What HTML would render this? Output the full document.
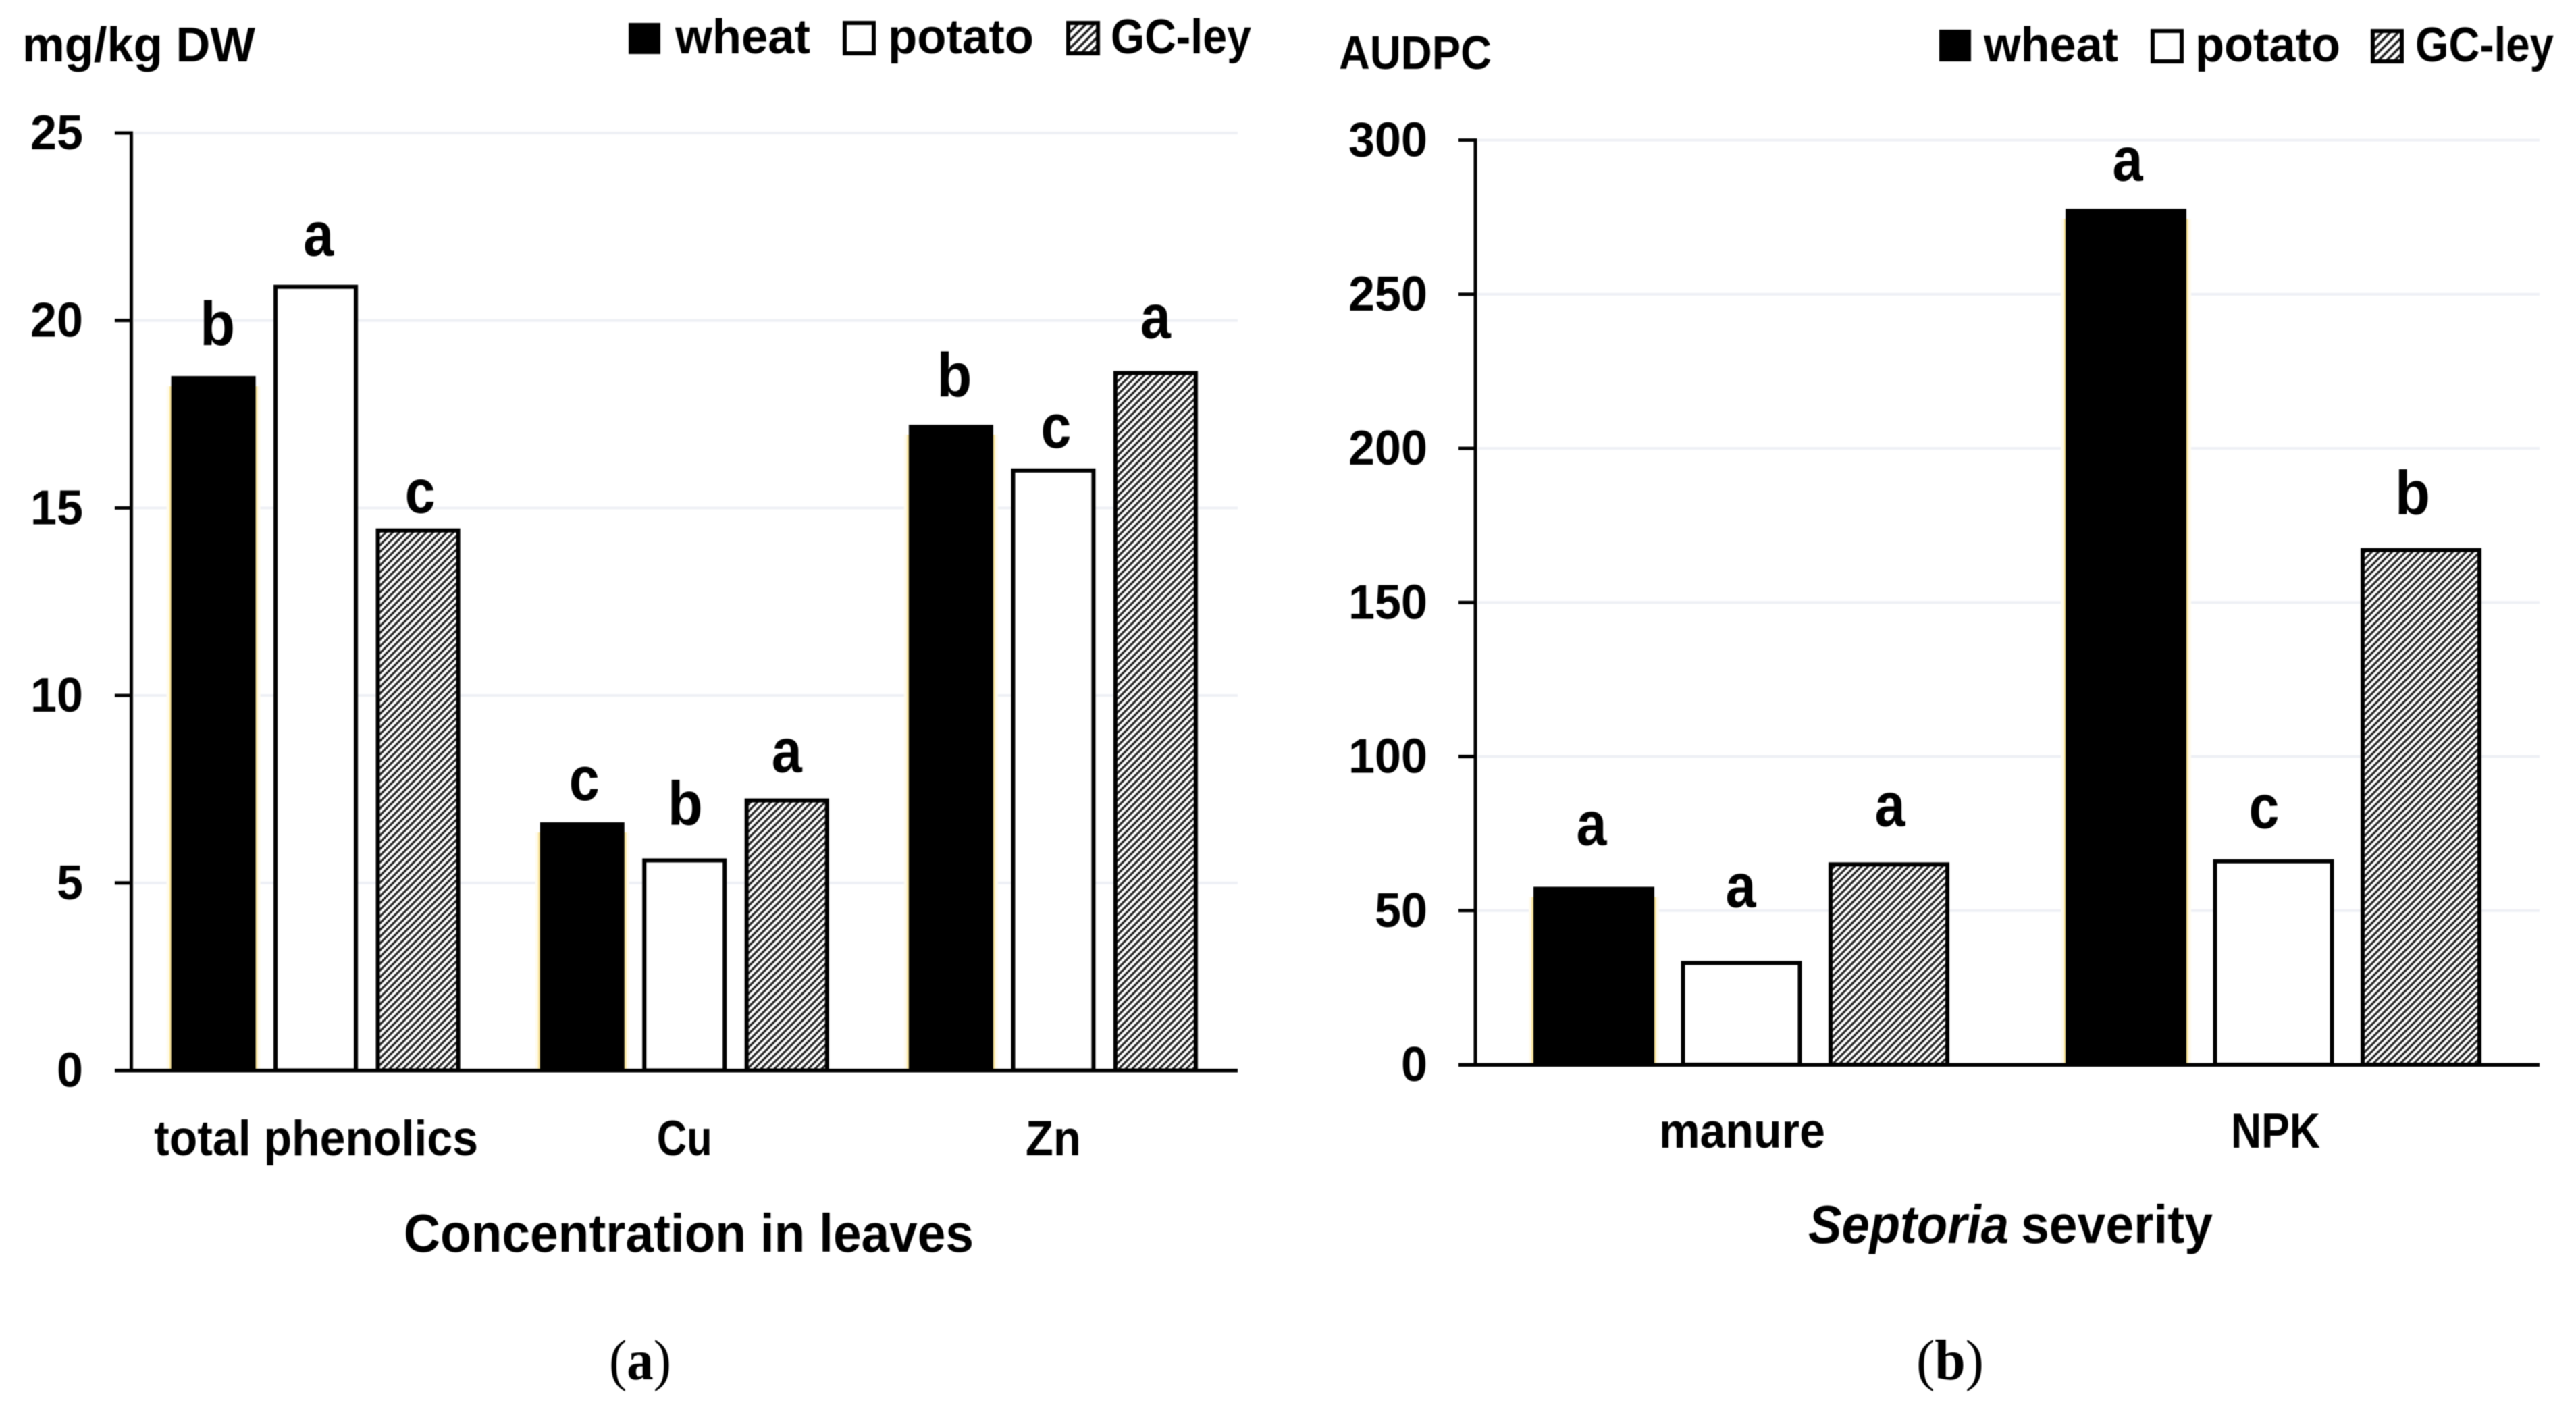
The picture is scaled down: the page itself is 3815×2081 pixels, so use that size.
<!DOCTYPE html>
<html lang="en">
<head>
<meta charset="utf-8">
<title>Concentration in leaves and Septoria severity</title>
<style>
  html, body { margin: 0; padding: 0; background: #fff; }
  body { width: 3815px; height: 2081px; overflow: hidden; }
  svg { display: block; filter: blur(0.7px); }
  text { font-family: "Liberation Sans", sans-serif; font-weight: 700; fill: #000; }
  .cap { font-family: "Liberation Serif", serif; font-weight: 400; }
</style>
</head>
<body>
<svg id="fig" xmlns="http://www.w3.org/2000/svg" width="3815" height="2081" viewBox="0 0 3815 2081">
  <defs>
    <pattern id="hatch" width="10" height="10" patternUnits="userSpaceOnUse">
      <rect width="10" height="10" fill="#fff"/>
      <path d="M-3,3 L3,-3 M0,10 L10,0 M7,13 L13,7" stroke="#222" stroke-width="3.2" fill="none"/>
    </pattern>
    <pattern id="hatch-legend" width="12" height="12" patternUnits="userSpaceOnUse">
      <rect width="12" height="12" fill="#fff"/>
      <path d="M-3,3 L3,-3 M0,12 L12,0 M9,15 L15,9" stroke="#222" stroke-width="3.6" fill="none"/>
    </pattern>
  </defs>
  <rect width="3815" height="2081" fill="#fff"/>

  <g id="panel-a">
    <text x="33" y="91" font-size="72" textLength="345" lengthAdjust="spacingAndGlyphs">mg/kg DW</text>
    <g>
      <g>
        <rect x="931" y="34" width="47" height="46" fill="#000"/>
        <text x="1000" y="79" font-size="72" textLength="200" lengthAdjust="spacingAndGlyphs">wheat</text>
      </g>
      <g>
        <rect x="1251" y="34" width="43" height="45" fill="#fff" stroke="#000" stroke-width="6"/>
        <text x="1315" y="79" font-size="72" textLength="216" lengthAdjust="spacingAndGlyphs">potato</text>
      </g>
      <g>
        <rect x="1582" y="34" width="44" height="45" fill="url(#hatch-legend)" stroke="#000" stroke-width="6"/>
        <text x="1645" y="79" font-size="72" textLength="208" lengthAdjust="spacingAndGlyphs">GC-ley</text>
      </g>
    </g>
    <text x="598" y="1854" font-size="80" textLength="844" lengthAdjust="spacingAndGlyphs">Concentration in leaves</text>
    <text class="cap" x="902" y="2043" font-size="85" textLength="92" lengthAdjust="spacingAndGlyphs">(<tspan style="font-weight:700">a</tspan>)</text>
  </g>

  <g id="panel-b">
    <text x="1983" y="102" font-size="70" textLength="226" lengthAdjust="spacingAndGlyphs">AUDPC</text>
    <g>
      <g>
        <rect x="2872" y="44" width="47" height="47" fill="#000"/>
        <text x="2938" y="91" font-size="72" textLength="199" lengthAdjust="spacingAndGlyphs">wheat</text>
      </g>
      <g>
        <rect x="3188" y="46" width="43" height="45" fill="#fff" stroke="#000" stroke-width="6"/>
        <text x="3251" y="91" font-size="72" textLength="215" lengthAdjust="spacingAndGlyphs">potato</text>
      </g>
      <g>
        <rect x="3514" y="46" width="43" height="45" fill="url(#hatch-legend)" stroke="#000" stroke-width="6"/>
        <text x="3577" y="91" font-size="72" textLength="205" lengthAdjust="spacingAndGlyphs">GC-ley</text>
      </g>
    </g>
    <text x="2678" y="1841" font-size="80" font-style="italic" textLength="297" lengthAdjust="spacingAndGlyphs">Septoria</text>
    <text x="2993" y="1841" font-size="80" textLength="284" lengthAdjust="spacingAndGlyphs">severity</text>
    <text class="cap" x="2838" y="2043" font-size="85" textLength="100" lengthAdjust="spacingAndGlyphs">(<tspan style="font-weight:700">b</tspan>)</text>
  </g>
</svg>

<script>
// ---- panel (a) data ----
const aCategories = ["total phenolics", "Cu", "Zn"];
const aWheat = [18.5, 6.6, 17.2];
const aPotato = [20.9, 5.6, 16.0];
const aGcLey = [14.4, 7.2, 18.6];
const aTicks = [0, 5, 10, 15, 20, 25];
const aLettersWheat = ["b", "c", "b"];
const aLettersPotato = ["a", "b", "c"];
const aLettersGcLey = ["c", "a", "a"];
const aGapsWheat = [47, 34, 43];
const aGapsPotato = [46, 53, 34];
const aGapsGcLey = [26, 42, 52];
const aNudgeWheat = [6, 3, 5];
const aNudgePotato = [4, 1, 4];
const aNudgeGcLey = [3, 0, 0];

// ---- panel (b) data ----
const bCategories = ["manure", "NPK"];
const bWheat = [57.5, 277.5];
const bPotato = [33, 66];
const bGcLey = [65, 167];
const bTicks = [0, 50, 100, 150, 200, 250, 300];
const bLettersWheat = ["a", "a"];
const bLettersPotato = ["a", "c"];
const bLettersGcLey = ["a", "b"];
const bGapsWheat = [63, 43];
const bGapsPotato = [83, 49];
const bGapsGcLey = [57, 53];
const bNudgeWheat = [-3.5, 2.5];
const bNudgePotato = [-1, -14];
const bNudgeGcLey = [1.5, -12.5];

const seriesNames = ["wheat", "potato", "gc-ley"];
const NS = "http://www.w3.org/2000/svg";

function make(tag, attrs, parent) {
  const el = document.createElementNS(NS, tag);
  for (const k in attrs) el.setAttribute(k, attrs[k]);
  parent.appendChild(el);
  return el;
}

function drawPanel(parent, p, cats, series, letters, gaps, nudges, ticks) {
  const yMax = ticks[ticks.length - 1];
  const y = v => p.y0 + (p.yTop - p.y0) * v / yMax;
  const band = (p.x1 - p.xAxis) / cats.length;
  const bandCenter = i => p.xAxis + band * (i + 0.5);
  const barCenter = (i, s) => bandCenter(i) + (s - 1) * p.pitch;

  // gridlines, tick marks, tick labels
  ticks.forEach(t => {
    const ty = y(t);
    if (t !== 0) {
      const g = make("rect", { x: p.xAxis + 4, y: ty - 2, width: p.x1 - p.xAxis - 4, height: 4, fill: "#eef0f5" }, parent);
      
      
    }
    const m = make("rect", { x: p.xTick, y: ty - 2.5, width: p.xAxis - p.xTick, height: 5, fill: "#000" }, parent);
    
    
    const label = String(t);
    const lbl = make("text", {
      x: p.xLabel,
      y: ty + 24,
      "font-size": 72,
      "text-anchor": "end",
      textLength: label.length * 39,
      lengthAdjust: "spacingAndGlyphs"
    }, parent);
    
    
    lbl.textContent = label;
  });

  // bars
  series.forEach((vals, s) => {
    vals.forEach((v, i) => {
      const cx = barCenter(i, s);
      const top = y(v);
      const w = p.barW - 6;
      if (s === 0) {
        const glow = make("rect", { x: cx - p.barW / 2 - 7, y: top + 14, width: p.barW + 14, height: p.y0 - top - 14, fill: "#fffbee" }, parent);
        
        
        const fringe = make("rect", { x: cx - p.barW / 2 - 3, y: top + 14, width: p.barW + 6, height: p.y0 - top - 14, fill: "#fbe7a0" }, parent);
        
        
        const solid = make("rect", { x: cx - p.barW / 2, y: top - 1, width: p.barW, height: p.y0 - top + 1, fill: "#000" }, parent);
        
        
      } else {
        const fill = s === 1 ? "#fff" : "url(#hatch)";
        const bar = make("rect", { x: cx - w / 2, y: top, width: w, height: p.y0 - top, fill: fill, stroke: "#000", "stroke-width": 6 }, parent);
        
        
      }

      const letter = letters[s][i];
      const t = make("text", {
        x: cx + nudges[s][i],
        y: top - gaps[s][i],
        "font-size": 92,
        "text-anchor": "middle",
        textLength: letter === "b" ? 52 : 45,
        lengthAdjust: "spacingAndGlyphs"
      }, parent);
      
      
      t.textContent = letter;
    });
  });

  // axes drawn above bars
  const ya = make("rect", { x: p.xAxis - 2.5, y: y(yMax) - 2.5, width: 5, height: p.y0 - y(yMax) + 5, fill: "#000" }, parent);
  
  
  const xa = make("rect", { x: p.xTick, y: p.y0 - 2.5, width: p.x1 - p.xTick, height: 5.5, fill: "#000" }, parent);
  
  

  // category labels
  cats.forEach((c, i) => {
    const t = make("text", {
      x: bandCenter(i) + p.catShift[i],
      y: p.catY,
      "font-size": 73,
      "text-anchor": "middle",
      textLength: p.catLen[i],
      lengthAdjust: "spacingAndGlyphs"
    }, parent);
    
    
    t.textContent = c;
  });
}

drawPanel(document.getElementById("panel-a"),
  { xAxis: 194.5, x1: 1833, y0: 1585.5, yTop: 197, xTick: 170, xLabel: 123, pitch: 151.5, barW: 125,
    catShift: [0.5, 0, 0], catLen: [480, 82, 82], catY: 1711 },
  aCategories, [aWheat, aPotato, aGcLey],
  [aLettersWheat, aLettersPotato, aLettersGcLey],
  [aGapsWheat, aGapsPotato, aGapsGcLey],
  [aNudgeWheat, aNudgePotato, aNudgeGcLey], aTicks);

drawPanel(document.getElementById("panel-b"),
  { xAxis: 2185, x1: 3761, y0: 1577, yTop: 207.6, xTick: 2160, xLabel: 2114, pitch: 218.5, barW: 179,
    catShift: [1, 3], catLen: [246, 132], catY: 1700 },
  bCategories, [bWheat, bPotato, bGcLey],
  [bLettersWheat, bLettersPotato, bLettersGcLey],
  [bGapsWheat, bGapsPotato, bGapsGcLey],
  [bNudgeWheat, bNudgePotato, bNudgeGcLey], bTicks);
</script>
</body>
</html>
